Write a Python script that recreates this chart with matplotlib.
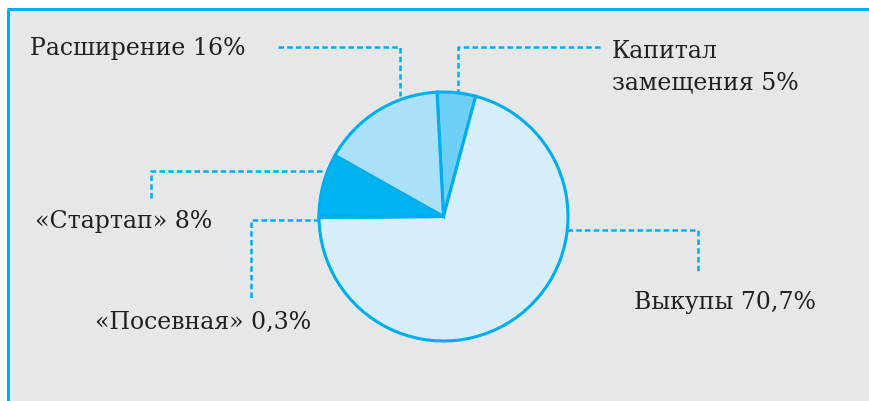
import matplotlib
matplotlib.use("Agg")
import matplotlib.pyplot as plt
from matplotlib.patches import Rectangle

# Data (clockwise order from the top)
labels = ["Капитал\nзамещения 5%", "Выкупы 70,7%", "«Посевная» 0,3%", "«Стартап» 8%", "Расширение 16%"]
values = [5, 70.7, 0.3, 8, 16]
colors = ["#6dcff6", "#d6eefa", "#ffffff", "#00b5ef", "#abe0f9"]

W, H = 870, 402
BLUE = "#00aeef"
TEXT = "#231f20"

fig = plt.figure(figsize=(W / 100, H / 100), dpi=100)
fig.patch.set_facecolor("white")
ax = fig.add_axes([0, 0, 1, 1])

def Y(y):
    return H - y

# Panel background with blue top/left border
ax.add_patch(Rectangle((8, -5), W, Y(10) + 5, facecolor="#e6e7e9", edgecolor="none", zorder=0))
ax.plot([8.5, 8.5], [-5, Y(10)], color=BLUE, lw=2.2, solid_capstyle="butt", zorder=1)
ax.plot([7.5, W + 5], [Y(10), Y(10)], color=BLUE, lw=2.2, solid_capstyle="butt", zorder=1)

cx, cy, r = 443.5, Y(217.5), 124.5
wedges, _ = ax.pie(values, colors=colors, startangle=93.0, counterclock=False,
                   center=(cx, cy), radius=r,
                   wedgeprops=dict(edgecolor=BLUE, linewidth=2.2, joinstyle="miter"))
for w in wedges:
    w.set_zorder(3)

# Leader lines (image pixel coordinates)
leaders = [
    [(278, 48), (400, 48), (400, 97)],      # Расширение
    [(600, 48), (458, 48), (458, 97)],      # Капитал
    [(322, 172), (151, 172), (151, 199)],   # Стартап
    [(319, 221), (251, 221), (251, 299)],   # Посевная
    [(567, 231), (698, 231), (698, 275)],   # Выкупы
]
for pts in leaders:
    xs = [p[0] for p in pts]
    ys = [Y(p[1]) for p in pts]
    ax.plot(xs, ys, color=BLUE, lw=1.8, ls=(0, (2.2, 1.3)), zorder=2)

font = dict(family="DejaVu Serif", fontsize=17, color=TEXT)
ax.text(30, Y(48), labels[4], ha="left", va="center", **font)
ax.text(612, Y(67), labels[0], ha="left", va="center", linespacing=1.45, **font)
ax.text(35, Y(222), labels[3], ha="left", va="center", **font)
ax.text(95, Y(322), labels[2], ha="left", va="center", **font)
ax.text(634, Y(303), labels[1], ha="left", va="center", **font)

ax.set_xlim(0, W)
ax.set_ylim(0, H)
ax.set_aspect("auto")
ax.axis("off")

fig.savefig("out.png", dpi=100, facecolor="white")
